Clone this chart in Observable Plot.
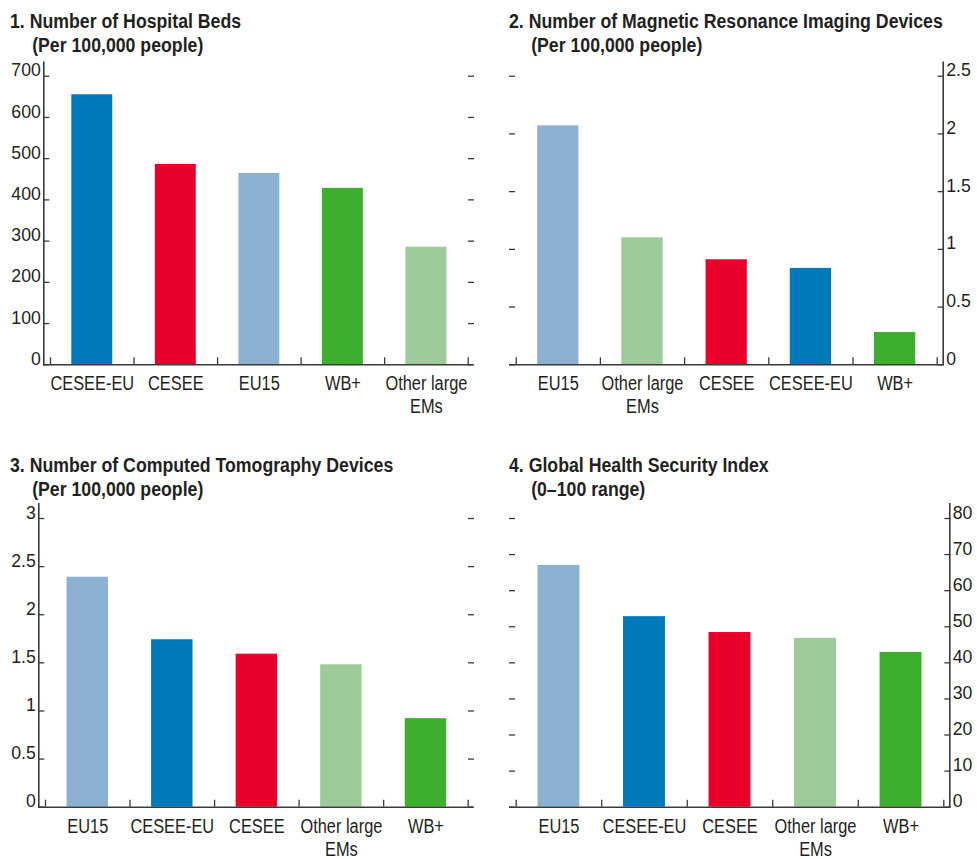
<!DOCTYPE html>
<html><head><meta charset="utf-8">
<script src="https://cdn.jsdelivr.net/npm/d3@7"></script>
<script src="https://cdn.jsdelivr.net/npm/@observablehq/plot@0.6"></script>
<style>
body{margin:0;background:#fff;}
#wrap{position:relative;width:977px;height:859px;font-family:"Liberation Sans",Arial,sans-serif;color:#231f20;}
.panel{position:absolute;}
.title{position:absolute;font-weight:bold;font-size:20px;line-height:24px;white-space:nowrap;transform:scaleX(0.885);transform-origin:0 0;}
.title .sub{padding-left:25px;}
</style></head>
<body><div id="wrap"></div>
<script>
// ---- data ----
const bedsCategories = ["CESEE-EU", "CESEE", "EU15", "WB+", "Other large EMs"];
const bedsValues = [655, 486, 464, 428, 285];
const bedsTicks = [0, 100, 200, 300, 400, 500, 600, 700];

const mriCategories = ["EU15", "Other large EMs", "CESEE", "CESEE-EU", "WB+"];
const mriValues = [2.07, 1.10, 0.91, 0.835, 0.28];
const mriTicks = [0, 0.5, 1, 1.5, 2, 2.5];

const ctCategories = ["EU15", "CESEE-EU", "CESEE", "Other large EMs", "WB+"];
const ctValues = [2.39, 1.74, 1.59, 1.48, 0.92];
const ctTicks = [0, 0.5, 1, 1.5, 2, 2.5, 3];

const ghsCategories = ["EU15", "CESEE-EU", "CESEE", "Other large EMs", "WB+"];
const ghsValues = [67.0, 52.8, 48.4, 46.8, 42.9];
const ghsTicks = [0, 10, 20, 30, 40, 50, 60, 70, 80];

const titles = [
  ["1. Number of Hospital Beds", "(Per 100,000 people)"],
  ["2. Number of Magnetic Resonance Imaging Devices", "(Per 100,000 people)"],
  ["3. Number of Computed Tomography Devices", "(Per 100,000 people)"],
  ["4. Global Health Security Index", "(0\u2013100 range)"]
];

// ---- styles ----
const groupColors = {
  "CESEE-EU": "#0079BA",
  "CESEE": "#E8002B",
  "EU15": "#8CB1D3",
  "WB+": "#3DAE2E",
  "Other large EMs": "#9DCA99"
};
const labelText = {"Other large EMs": "Other large\nEMs"};
const axisColor = "#3a3a3a";
const textColor = "#231f20";
const font = '"Liberation Sans",Arial,sans-serif';
const condenseX = 0.78;  // horizontal squeeze of category labels
const condenseY = 0.93;  // horizontal squeeze of value labels

function condense(svg) {
  svg.querySelectorAll("text").forEach(t => {
    const g = t.closest("g[aria-label]");
    const lab = g ? g.getAttribute("aria-label") : "";
    const s = lab.includes("x-axis") ? condenseX : lab.includes("y-axis") ? condenseY : 1;
    if (s === 1) return;
    const tr = t.getAttribute("transform");
    if (tr) t.setAttribute("transform", tr + ` scale(${s},1)`);
    else {
      const x = +(t.getAttribute("x") || 0);
      t.setAttribute("transform", `translate(${x},0) scale(${s},1) translate(${-x},0)`);
    }
  });
  return svg;
}

function panel(cats, vals, ticks, side, g) {
  const data = cats.map((c, i) => ({c, i, v: vals[i]}));
  const n = cats.length;
  const pad = 0.255;
  return condense(Plot.plot({
    width: g.w, height: g.h,
    marginLeft: g.mL, marginRight: g.mR, marginTop: g.mT, marginBottom: g.mB,
    x: {type: "linear", domain: [0, n], insetLeft: g.iL, insetRight: g.iR},
    y: {domain: [0, ticks[ticks.length - 1]], insetTop: g.iT},
    style: {fontFamily: font, color: textColor, background: "white", overflow: "visible"},
    marks: [
      Plot.rectY(data, {x1: d => d.i + pad, x2: d => d.i + 1 - pad, y1: 0, y2: "v", fill: d => groupColors[d.c]}),
      Plot.axisY(ticks, {anchor: "left", label: null, tickSize: -6, tickFormat: () => "", stroke: axisColor, strokeWidth: 1.3}),
      Plot.axisY(ticks, {anchor: "right", label: null, tickSize: -6, tickFormat: () => "", stroke: axisColor, strokeWidth: 1.3}),
      Plot.axisY(ticks, {anchor: side, label: null, tickSize: 0, tickPadding: 3, dy: -6, fontSize: 19, fill: textColor, tickFormat: d => String(d)}),
      Plot.axisX(d3.range(n + 1), {label: null, tickSize: -7, tickFormat: () => "", stroke: axisColor, strokeWidth: 1.3}),
      Plot.axisX(d3.range(n).map(i => i + 0.5), {label: null, tickSize: 0, tickPadding: 9, fontSize: 21, lineHeight: 1.1, fill: textColor,
        tickFormat: t => { const c = cats[Math.floor(t)]; return labelText[c] || c; }}),
      Plot.ruleY([0], {stroke: axisColor, strokeWidth: 1.6}),
      Plot.frame({anchor: side, stroke: axisColor, strokeWidth: 1.6})
    ]
  }));
}

const layout = [
  {left: 0, top: 0, tTop: 9, tLeft: 10, w: 488, h: 430, mL: 43.3, mR: 15, mT: 61.7, mB: 65.7, iL: 6.7, iR: 5.3, iT: 14},
  {left: 490, top: 0, tTop: 9, tLeft: 19, w: 487, h: 430, mL: 19, mR: 34.3, mT: 61.7, mB: 65.7, iL: 6.7, iR: 6, iT: 14},
  {left: 0, top: 440, tTop: 13, tLeft: 10, w: 488, h: 419, mL: 38.3, mR: 15, mT: 63.3, mB: 52.3, iL: 6.7, iR: 5.3, iT: 14.7},
  {left: 490, top: 440, tTop: 13, tLeft: 19, w: 487, h: 419, mL: 19, mR: 27.7, mT: 63.3, mB: 52.3, iL: 6.7, iR: 6, iT: 14.7}
];
const panels = [
  [bedsCategories, bedsValues, bedsTicks, "left"],
  [mriCategories, mriValues, mriTicks, "right"],
  [ctCategories, ctValues, ctTicks, "left"],
  [ghsCategories, ghsValues, ghsTicks, "right"]
];

const wrap = document.getElementById("wrap");
panels.forEach((p, k) => {
  const g = layout[k];
  const div = document.createElement("div");
  div.className = "panel";
  div.style.left = g.left + "px";
  div.style.top = g.top + "px";
  div.appendChild(panel(p[0], p[1], p[2], p[3], g));
  const t = document.createElement("div");
  t.className = "title";
  t.style.left = g.tLeft + "px";
  t.style.top = g.tTop + "px";
  t.innerHTML = `<div>${titles[k][0]}</div><div class="sub">${titles[k][1]}</div>`;
  div.appendChild(t);
  wrap.appendChild(div);
});
</script>
</body></html>
